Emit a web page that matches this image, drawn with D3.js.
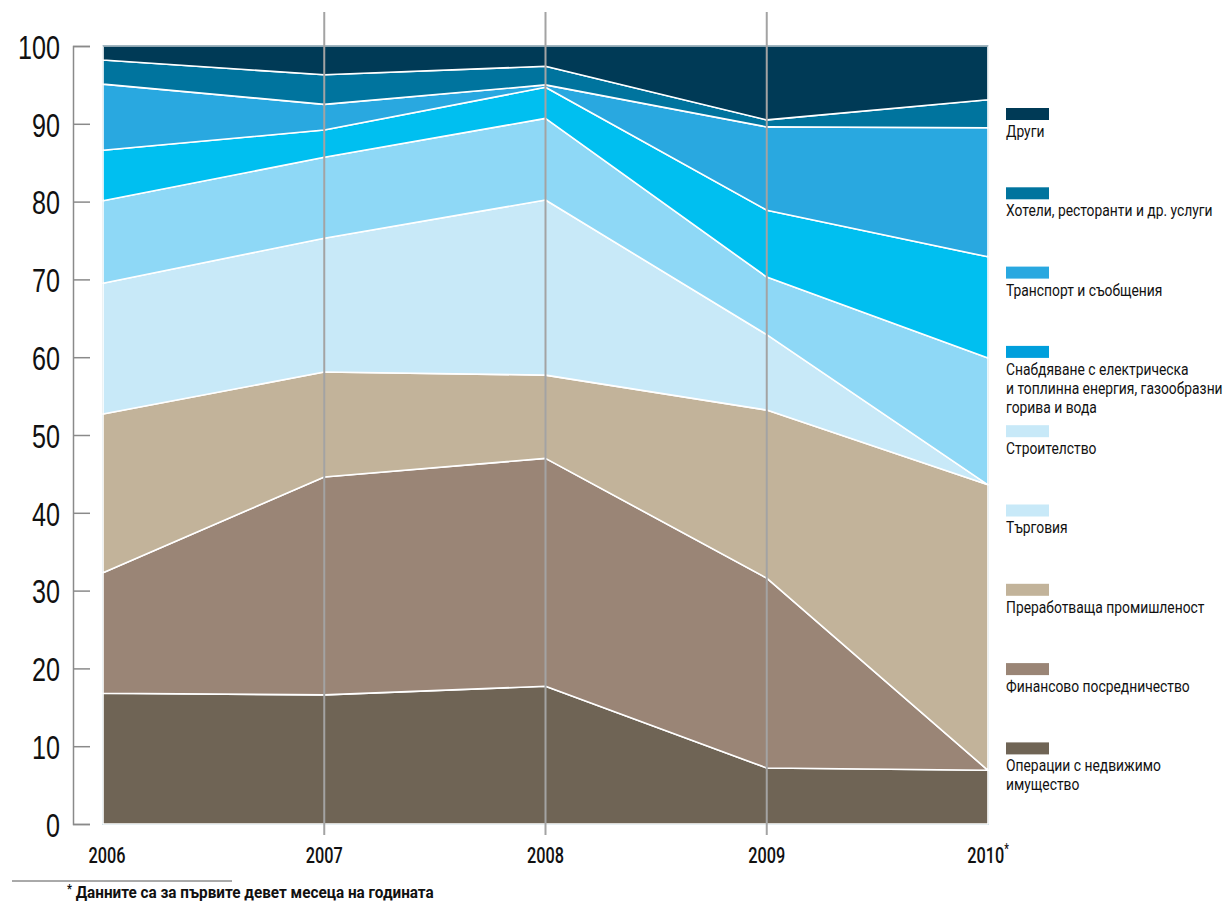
<!DOCTYPE html>
<html>
<head>
<meta charset="utf-8">
<script src="https://cdn.jsdelivr.net/npm/d3@7"></script>
<style>
  body { margin: 0; background: #fff; }
  svg { display: block; font-family: Roboto, "Noto Sans", sans-serif; }
</style>
</head>
<body>
<div id="chart"></div>
<script>
// chart size, same as the reference picture
const WIDTH = 1225, HEIGHT = 902;
// the original uses a narrow font, so text is squeezed sideways
const SQUEEZE = 0.74;

// years on the x axis
const years = [2006, 2007, 2008, 2009, 2010];
const yearLabels = ["2006", "2007", "2008", "2009", "2010"];

// shares per sector (%), bottom layer first
const operacii     = [16.8, 16.6, 17.7, 7.2, 6.9];
const finansovo    = [15.5, 28.0, 29.3, 24.4, 0.0];
const prerabotvasta= [20.4, 13.5, 10.7, 21.6, 36.7];
const targovia     = [16.8, 17.2, 22.5, 9.7, 0.0];
const stroitelstvo = [10.6, 10.4, 10.5, 7.4, 16.3];
const snabdyavane  = [6.5, 3.5, 4.0, 8.6, 13.0];
const transport    = [8.5, 3.3, 0.3, 10.7, 16.6];
const hoteli       = [3.1, 3.8, 2.4, 0.9, 3.6];
const drugi        = [1.8, 3.7, 2.6, 9.5, 6.9];

const yTicks = [0, 10, 20, 30, 40, 50, 60, 70, 80, 90, 100];

// sector keys and names, bottom layer first
const keys = ["operacii", "finansovo", "prerabotvasta", "targovia", "stroitelstvo",
              "snabdyavane", "transport", "hoteli", "drugi"];
const names = {
  operacii: ["Операции с недвижимо", "имущество"],
  finansovo: ["Финансово посредничество"],
  prerabotvasta: ["Преработваща промишленост"],
  targovia: ["Търговия"],
  stroitelstvo: ["Строителство"],
  snabdyavane: ["Снабдяване с електрическа", "и топлинна енергия, газообразни", "горива и вода"],
  transport: ["Транспорт и съобщения"],
  hoteli: ["Хотели, ресторанти и др. услуги"],
  drugi: ["Други"]
};
const areaColors = {
  operacii: "#6f6455", finansovo: "#9a8576", prerabotvasta: "#c2b39a",
  targovia: "#c8e9f8", stroitelstvo: "#8ed8f6", snabdyavane: "#00bff0",
  transport: "#29a8e0", hoteli: "#00749e", drugi: "#003a56"
};
// legend swatches are not always the same tone as the areas
const swatchColors = Object.assign({}, areaColors,
  { snabdyavane: "#009fdc", stroitelstvo: "#c8e9f8" });

const series = { operacii, finansovo, prerabotvasta, targovia, stroitelstvo,
                 snabdyavane, transport, hoteli, drugi };

// one row per year for d3.stack
const table = years.map((y, i) => {
  const row = { year: y };
  keys.forEach(k => row[k] = series[k][i]);
  return row;
});

const svg = d3.select("#chart").append("svg")
  .attr("width", WIDTH).attr("height", HEIGHT);

const x = d3.scaleLinear().domain([2006, 2010]).range([103, 988]);
const y = d3.scaleLinear().domain([0, 100]).range([824, 46]);

const layers = d3.stack().keys(keys)(table);

const area = d3.area()
  .x(d => x(d.data.year))
  .y0(d => y(d[0]))
  .y1(d => y(d[1]));

// thin frame around plot
svg.append("rect")
  .attr("x", x(2006)).attr("y", y(100))
  .attr("width", x(2010) - x(2006)).attr("height", y(0) - y(100))
  .attr("fill", "none").attr("stroke", "#7fa6b8").attr("stroke-width", 1.5);

svg.append("g").selectAll("path")
  .data(layers)
  .join("path")
  .attr("d", area)
  .attr("fill", d => areaColors[d.key])
  .attr("stroke", "#fff")
  .attr("stroke-width", 1.6)
  .attr("stroke-linejoin", "round");

svg.append("path")
  .attr("d", `M${x(2006)},${y(100)}H${x(2010)}`)
  .attr("stroke", "#5a7c8e").attr("stroke-width", 1);

// vertical year lines
svg.append("g").selectAll("line")
  .data(years.slice(1, -1))
  .join("line")
  .attr("x1", d => x(d)).attr("x2", d => x(d))
  .attr("y1", 12).attr("y2", 835)
  .attr("stroke", "#a3a3a3").attr("stroke-width", 2);

// y axis, ticks pointing into the chart
const yAxis = d3.axisLeft(y).tickValues(yTicks).tickSize(-17).tickPadding(13);
const gy = svg.append("g").attr("transform", "translate(73,0)").call(yAxis);
gy.selectAll("path, line").attr("stroke", "#8a8a8a").attr("stroke-width", 1.5);
gy.selectAll("text")
  .attr("x", 0)
  .attr("dy", "0.36em")
  .attr("transform", `translate(-13,0) scale(${SQUEEZE},1)`)
  .attr("fill", "#111")
  .style("font-size", "34px")
  .style("font-weight", 500)
  .style("font-family", "inherit");

// year labels
const xl = svg.append("g").selectAll("text")
  .data(years)
  .join("text")
  .attr("transform", d => `translate(${x(d) + (d === 2006 ? 4 : 0)},863) scale(${SQUEEZE},1)`)
  .attr("text-anchor", "middle")
  .attr("fill", "#111")
  .style("font-size", "22px")
  .style("font-weight", 500)
  .text((d, i) => yearLabels[i]);
xl.filter(d => d === 2010).append("tspan")
  .attr("dy", -9).style("font-size", "14px").text("*");

// legend, top entry first
const legend = svg.append("g").attr("transform", "translate(1006,108)");
const entries = legend.selectAll("g")
  .data(keys.slice().reverse())
  .join("g")
  .attr("transform", (d, i) => `translate(0,${i * 79.3})`);
entries.append("rect")
  .attr("width", 43).attr("height", 12)
  .attr("fill", d => swatchColors[d]);
entries.append("text")
  .attr("transform", `scale(0.84,1)`)
  .attr("fill", "#111")
  .style("font-size", "16.5px")
  .selectAll("tspan")
  .data(d => names[d])
  .join("tspan")
  .attr("x", 0)
  .attr("y", (d, i) => 29 + i * 19)
  .text(d => d);

// footnote
svg.append("line")
  .attr("x1", 12).attr("x2", 232).attr("y1", 881).attr("y2", 881)
  .attr("stroke", "#555").attr("stroke-width", 1);
const foot = svg.append("text")
  .attr("transform", `translate(67,898) scale(0.9,1)`)
  .attr("fill", "#111")
  .style("font-size", "17px").style("font-weight", "bold");
foot.append("tspan").attr("dy", -5).style("font-size", "12px").text("*");
foot.append("tspan").attr("dy", 5).text(" Данните са за първите девет месеца на годината");
</script>
</body>
</html>
